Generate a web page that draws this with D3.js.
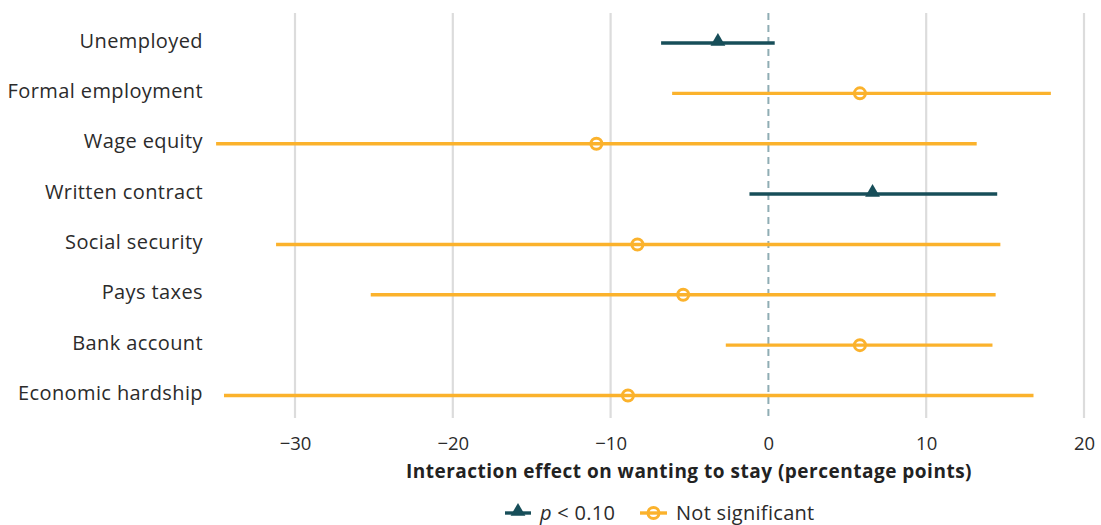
<!DOCTYPE html>
<html>
<head>
<meta charset="utf-8">
<script src="https://cdn.jsdelivr.net/npm/d3@7"></script>
<style>
  html, body { margin: 0; padding: 0; background: #fff; }
  svg { display: block; font-family: "Open Sans", "Noto Sans", sans-serif; }
</style>
</head>
<body>
<svg id="chart" width="1101" height="525"></svg>
<script>
// Outcomes, top to bottom
const categories = ["Unemployed", "Formal employment", "Wage equity", "Written contract",
                    "Social security", "Pays taxes", "Bank account", "Economic hardship"];
// Point estimates and 95% interval bounds (percentage points)
const estimates = [-3.2, 5.8, -10.9, 6.6, -8.3, -5.4, 5.8, -8.9];
const lower     = [-6.8, -6.1, -35.0, -1.2, -31.2, -25.2, -2.7, -34.5];
const upper     = [0.4, 17.9, 13.2, 14.5, 14.7, 14.4, 14.2, 16.8];
// true = p < 0.10
const significant = [true, false, false, true, false, false, false, false];
const xTicks = [-30, -20, -10, 0, 10, 20];
const legendLabels = ["p < 0.10", "Not significant"];

const data = categories.map((c, i) => ({
  cat: c, est: estimates[i], lo: lower[i], hi: upper[i], sig: significant[i]
}));

const colSig = "#174e59", colNs = "#fbb22c", textCol = "#2b2b2b";
const svg = d3.select("#chart");

const x = d3.scaleLinear().domain([-30, 20]).range([295, 1084]);
const y = d3.scalePoint().domain(categories).range([43, 395.5]);

// vertical grid
svg.append("g").selectAll("line").data(xTicks.filter(t => t !== 0)).join("line")
  .attr("x1", d => x(d)).attr("x2", d => x(d))
  .attr("y1", 13).attr("y2", 418)
  .attr("stroke", "#dcdcdc").attr("stroke-width", 2.2);

// zero reference
svg.append("line")
  .attr("x1", x(0)).attr("x2", x(0)).attr("y1", 13).attr("y2", 418)
  .attr("stroke", "#8fadb4").attr("stroke-width", 2)
  .attr("stroke-dasharray", "7,5");

// x axis labels
const xAxis = d3.axisBottom(x).tickValues(xTicks).tickSize(0).tickPadding(0)
  .tickFormat(d => d < 0 ? "\u2212" + Math.abs(d) : d);
const gx = svg.append("g").attr("transform", "translate(0,444)").call(xAxis);
gx.select(".domain").remove();
gx.selectAll("text").attr("font-size", 18.5).attr("fill", textCol)
  .attr("font-family", "'Open Sans', sans-serif").attr("dy", "0.35em");

// y axis labels
const yAxis = d3.axisLeft(y).tickSize(0).tickPadding(0);
const gy = svg.append("g").attr("transform", "translate(203,0)").call(yAxis);
gy.select(".domain").remove();
gy.selectAll("text").attr("font-size", 20).attr("letter-spacing", 0.4).attr("fill", textCol)
  .attr("font-family", "'Open Sans', sans-serif").attr("dy", "0.2em");

// axis title
svg.append("text").attr("x", 689).attr("y", 471).attr("dy", "0.35em")
  .attr("text-anchor", "middle")
  .attr("font-size", 19).attr("letter-spacing", 0.5)
  .attr("font-weight", "bold").attr("fill", "#222")
  .text("Interaction effect on wanting to stay (percentage points)");

// intervals
const rows = svg.append("g").selectAll("g").data(data).join("g");
rows.append("line")
  .attr("x1", d => x(d.lo)).attr("x2", d => x(d.hi))
  .attr("y1", d => y(d.cat)).attr("y2", d => y(d.cat))
  .attr("stroke", d => d.sig ? colSig : colNs).attr("stroke-width", 3.4);

const tri = d3.symbol().type(d3.symbolTriangle).size(95);
rows.filter(d => d.sig).append("path")
  .attr("d", tri)
  .attr("transform", d => `translate(${x(d.est)},${y(d.cat) - 1.5})`)
  .attr("fill", colSig);
rows.filter(d => !d.sig).append("circle")
  .attr("cx", d => x(d.est)).attr("cy", d => y(d.cat)).attr("r", 5.5)
  .attr("fill", "none").attr("stroke", colNs).attr("stroke-width", 3);

// legend
const lg = svg.append("g").attr("transform", "translate(0,513)");
lg.append("line").attr("x1", 505).attr("x2", 531).attr("y1", 0).attr("y2", 0)
  .attr("stroke", colSig).attr("stroke-width", 3.4);
lg.append("path").attr("d", tri).attr("transform", "translate(518,-1.5)").attr("fill", colSig);
const t1 = lg.append("text").attr("x", 540).attr("y", 0).attr("dy", "0.35em")
  .attr("font-size", 20).attr("letter-spacing", 0.3).attr("fill", textCol);
t1.append("tspan").attr("font-style", "italic").text("p");
t1.append("tspan").text(legendLabels[0].slice(1));
lg.append("line").attr("x1", 640).attr("x2", 667).attr("y1", 0).attr("y2", 0)
  .attr("stroke", colNs).attr("stroke-width", 3.4);
lg.append("circle").attr("cx", 653.5).attr("cy", 0).attr("r", 5.5)
  .attr("fill", "none").attr("stroke", colNs).attr("stroke-width", 3);
lg.append("text").attr("x", 676).attr("y", 0).attr("dy", "0.35em")
  .attr("font-size", 20).attr("letter-spacing", 0.3).attr("fill", textCol).text(legendLabels[1]);
</script>
</body>
</html>
